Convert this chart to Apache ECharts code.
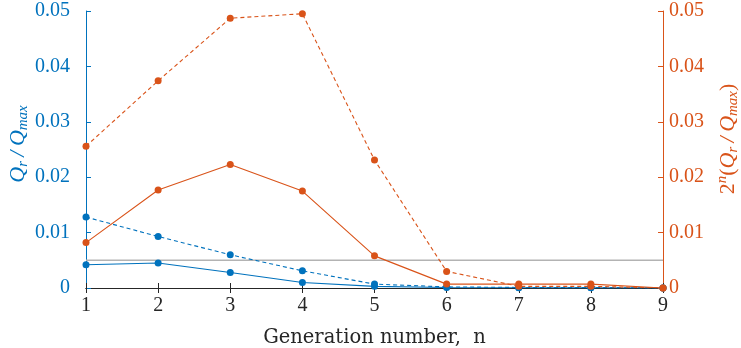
<!DOCTYPE html>
<html><head><meta charset="utf-8">
<script src="https://cdn.jsdelivr.net/npm/echarts@6/dist/echarts.min.js"></script>
<style>html,body{margin:0;padding:0;background:#fff}#c{width:741px;height:348px}</style>
</head><body><div id="c"></div>
<script>
const generations = [1, 2, 3, 4, 5, 6, 7, 8, 9];
const qrSolid   = [0.0042, 0.0045, 0.0028, 0.0010, 0.0003, 0.0001, 0.00005, 0.00003, 0.0];
const qrDashed  = [0.0128, 0.0093, 0.0060, 0.0031, 0.0007, 0.0002, 0.0001, 0.0001, 0.0];
const scaledSolid  = [0.0082, 0.0177, 0.0223, 0.0175, 0.0058, 0.0007, 0.0007, 0.0007, 0.0];
const scaledDashed = [0.0256, 0.0374, 0.0487, 0.0495, 0.0231, 0.0030, 0.0003, 0.0003, 0.0];
const thresholdX = [1, 9];
const thresholdY = [0.005, 0.005];

const BLUE = '#0072BD', ORANGE = '#D95319', DARK = '#262626';
const FONT = '"Liberation Serif", "DejaVu Serif", serif';
const pairs = arr => generations.map((g, i) => [g, arr[i]]);
const fmt = v => (v === 0 ? '0' : String(+v.toFixed(2)));

const chart = echarts.init(document.getElementById('c'));
const yAxisBase = (color, pos, margin) => ({
  type: 'value', position: pos, min: 0, max: 0.05, interval: 0.01,
  axisLine: { show: true, lineStyle: { color: color, width: 1 } },
  axisTick: { show: true, inside: true, length: 5, lineStyle: { color: color } },
  axisLabel: { color: color, fontFamily: FONT, fontSize: 20, margin: margin, formatter: fmt },
  splitLine: { show: false }
});
const nameRich = color => ({
  i: { fontFamily: FONT, fontStyle: 'italic', fontSize: 22, fill: color },
  s: { fontFamily: FONT, fontStyle: 'italic', fontSize: 15, fill: color, padding: [10, 0, 0, 0] },
  p: { fontFamily: FONT, fontStyle: 'italic', fontSize: 15, fill: color, padding: [0, 0, 11, 0] },
  n: { fontFamily: FONT, fontSize: 22, fill: color }
});

const mk = (data, color, dashed, yIdx) => ({
  type: 'line', data: pairs(data), yAxisIndex: yIdx, xAxisIndex: 0,
  symbol: 'circle', symbolSize: 7, showSymbol: true,
  lineStyle: { color: color, width: 1.1, type: dashed ? [4, 3] : 'solid' },
  itemStyle: { color: color }, animation: false, z: 3
});

chart.setOption({
  animation: false,
  grid: { left: 86, right: 78, top: 11, bottom: 60, containLabel: false, outerBoundsMode: 'none' },
  xAxis: [
    { type: 'value', position: 'bottom', min: 1, max: 9, interval: 1,
      axisLine: { show: true, lineStyle: { color: DARK } },
      axisTick: { show: true, inside: true, length: 5, lineStyle: { color: DARK } },
      axisLabel: { color: DARK, fontFamily: FONT, fontSize: 20, margin: 8 },
      splitLine: { show: false },
      name: 'Generation number,  n', nameLocation: 'middle', nameGap: 40,
      nameTextStyle: { color: DARK, fontFamily: '"DejaVu Serif", serif', fontSize: 19.5 } },
    { type: 'value', position: 'top', min: 1, max: 9, interval: 1,
      axisLine: { show: true, lineStyle: { color: DARK } },
      axisTick: { show: true, inside: true, length: 5, lineStyle: { color: DARK } },
      axisLabel: { show: false }, splitLine: { show: false } }
  ],
  yAxis: [yAxisBase(BLUE, 'left', 16), yAxisBase(ORANGE, 'right', 6)],
  graphic: [
    { type: 'text', x: 18, y: 144, rotation: Math.PI / 2,
      style: { text: '{i|Q}{s|r}{i|\u2009/\u2009Q}{s|max}', rich: nameRich(BLUE), fill: BLUE, align: 'center', verticalAlign: 'middle' } },
    { type: 'text', x: 728, y: 139, rotation: Math.PI / 2,
      style: { text: '{n|2}{p|n}{n|(}{i|Q}{s|r}{i|\u2009/\u2009Q}{s|max}{n|)}', rich: nameRich(ORANGE), fill: ORANGE, align: 'center', verticalAlign: 'middle' } }
  ],
  series: [
    { type: 'line', data: thresholdX.map((x, i) => [x, thresholdY[i]]), yAxisIndex: 0,
      symbol: 'none', lineStyle: { color: '#b3b3b3', width: 1.5 }, z: 2, silent: true },
    mk(qrSolid, BLUE, false, 0),
    mk(qrDashed, BLUE, true, 0),
    mk(scaledSolid, ORANGE, false, 1),
    mk(scaledDashed, ORANGE, true, 1)
  ]
});
</script></body></html>
